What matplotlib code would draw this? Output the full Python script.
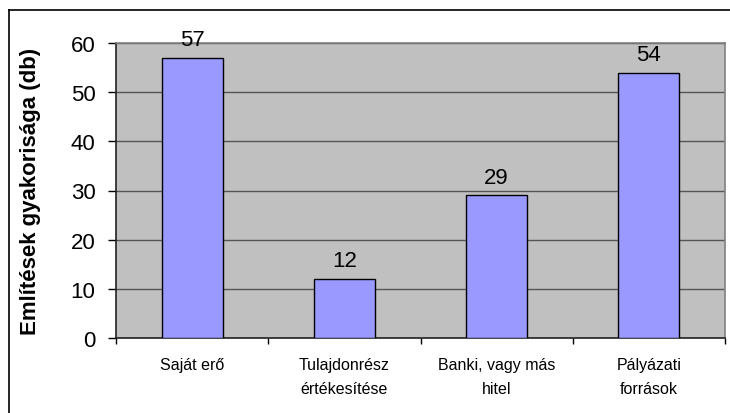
import matplotlib
matplotlib.use("Agg")
import matplotlib.pyplot as plt
from matplotlib.lines import Line2D

# Data
categories = ["Saját erő", "Tulajdonrész\nértékesítése", "Banki, vagy más\nhitel", "Pályázati\nforrások"]
counts = [57, 12, 29, 54]
y_ticks = [0, 10, 20, 30, 40, 50, 60]
y_label = "Említések gyakorisága (db)"

W, H = 730, 414
fig = plt.figure(figsize=(W / 100, H / 100), dpi=100)
fig.patch.set_facecolor("white")

# Plot area
left, right, top, bottom = 116, 725, 44, 339
ax = fig.add_axes([left / W, 1 - bottom / H, (right - left) / W, (bottom - top) / H])
ax.set_facecolor("#C0C0C0")

x = list(range(len(categories)))
ax.bar(x, counts, width=0.4, color="#9999FF", edgecolor="black", linewidth=1.0, zorder=3)

for xi, v in zip(x, counts):
    ax.annotate(str(v), (xi, v), xytext=(0, 9), textcoords="offset points",
                ha="center", va="baseline", fontsize=16, family="Liberation Sans", zorder=4)

ax.set_xlim(-0.5, len(categories) - 0.5)
ax.set_ylim(0, 60)
ax.set_yticks(y_ticks)
ax.set_yticklabels([str(t) for t in y_ticks], fontsize=16, family="Liberation Sans")
ax.yaxis.grid(True, color="#555555", linewidth=1.0, zorder=1)
ax.set_axisbelow(True)

# Category labels centered, tick marks on category boundaries
ax.set_xticks(x)
ax.set_xticklabels(categories, fontsize=11.5, family="Liberation Sans", linespacing=1.75)
ax.tick_params(axis="x", which="major", length=0, pad=13.5)
ax.set_xticks([i - 0.5 for i in range(len(categories) + 1)], minor=True)
ax.tick_params(axis="x", which="minor", length=4.5, width=1.0, color="black", direction="out")
ax.tick_params(axis="y", length=5.8, width=1.0, color="black", direction="out", pad=9)

for side in ("top", "right"):
    ax.spines[side].set_color("#808080")
    ax.spines[side].set_linewidth(1.2)
for side in ("left", "bottom"):
    ax.spines[side].set_color("#222222")
    ax.spines[side].set_linewidth(1.2)

ax.set_ylabel(y_label, fontsize=16, fontweight="bold", family="Liberation Sans")
ax.yaxis.set_label_coords((41 - left) / (right - left), 0.5)

# Chart frame (left and top edges)
fig.add_artist(Line2D([8.5 / W, 8.5 / W], [0, 1 - 11 / H], transform=fig.transFigure,
                      color="black", linewidth=1.2))
fig.add_artist(Line2D([8.5 / W, 1], [1 - 11 / H, 1 - 11 / H], transform=fig.transFigure,
                      color="black", linewidth=1.2))

fig.savefig("out.png", dpi=100)
